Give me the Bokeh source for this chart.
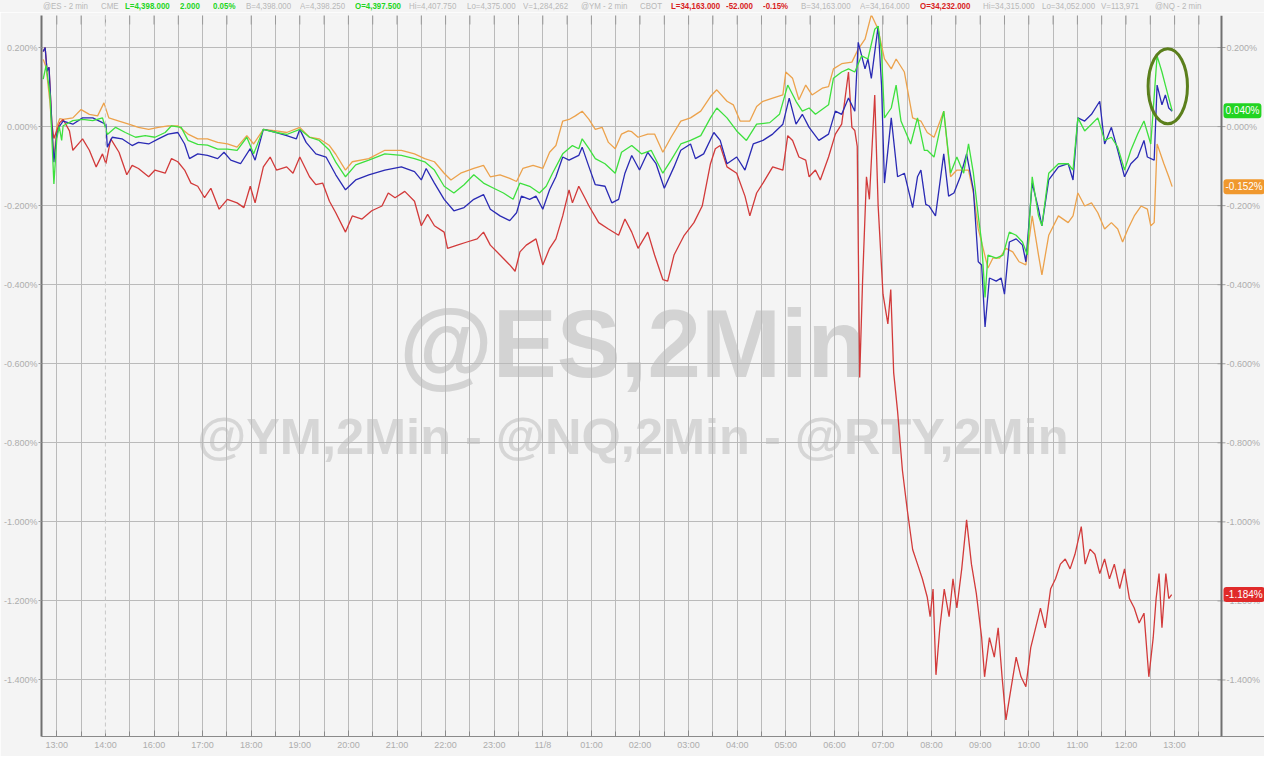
import math
from bokeh.plotting import figure
from bokeh.models import Range1d, FixedTicker, PrintfTickFormatter, Span, Label, Div, BoxAnnotation
from bokeh.layouts import column
from bokeh.embed import file_html
from bokeh.resources import INLINE
from bokeh.core.properties import value

# ---------------- data (x = hours from the first 13:00 tick, y = % change) -------------
hour_labels = ["13:00", "14:00", "16:00", "17:00", "18:00", "19:00", "20:00", "21:00",
               "22:00", "23:00", "11/8", "01:00", "02:00", "03:00", "04:00", "05:00",
               "06:00", "07:00", "08:00", "09:00", "10:00", "11:00", "12:00", "13:00"]
y_ticks = [0.2, 0.0, -0.2, -0.4, -0.6, -0.8, -1.0, -1.2, -1.4]

es_t = [-0.28, -0.22, -0.14, -0.06, 0.0, 0.05, 0.10, 0.13, 0.33, 0.53,
        0.74, 0.94, 1.04, 1.21, 1.41, 1.62, 1.82, 2.02, 2.23, 2.36,
        2.56, 2.70, 2.90, 3.10, 3.31, 3.51, 3.71, 3.91, 4.05, 4.25,
        4.52, 4.73, 5.00, 5.20, 5.40, 5.61, 5.74, 5.94, 6.15, 6.42,
        6.75, 7.09, 7.36, 7.57, 7.77, 7.97, 8.17, 8.38, 8.58, 8.78,
        8.99, 9.19, 9.39, 9.53, 9.73, 9.93, 10.07, 10.20, 10.41, 10.61,
        10.74, 10.81, 10.95, 11.08, 11.28, 11.49, 11.62, 11.83, 12.03, 12.23,
        12.47, 12.64, 12.84, 13.04, 13.25, 13.45, 13.58, 13.79, 13.99, 14.19,
        14.40, 14.67, 14.87, 15.04, 15.21, 15.34, 15.48, 15.61, 15.88, 15.98,
        16.15, 16.29, 16.42, 16.56, 16.69, 16.83, 16.90, 16.97, 17.03, 17.17,
        17.27, 17.37, 17.57, 17.71, 17.85, 17.91, 18.05, 18.25, 18.39, 18.52,
        18.66, 18.76, 18.86, 18.96, 19.03, 19.10, 19.16, 19.33, 19.47, 19.60,
        19.74, 19.87, 19.97, 20.07, 20.20, 20.27, 20.41, 20.61, 20.81, 20.91,
        21.01, 21.15, 21.29, 21.42, 21.56, 21.70, 21.83, 21.97, 22.10, 22.24,
        22.37, 22.51, 22.64, 22.74, 22.81, 22.88, 22.95]
es_v = [0.12, 0.155, 0.08, -0.145, -0.03, 0.0, -0.035, 0.002, 0.015, 0.018,
        0.015, 0.022, -0.02, -0.002, -0.015, -0.027, -0.023, -0.027, -0.015, 0.002,
        -0.002, -0.035, -0.045, -0.047, -0.057, -0.057, -0.06, -0.027, -0.069, -0.007,
        -0.015, -0.02, -0.007, -0.027, -0.035, -0.06, -0.09, -0.127, -0.097, -0.085,
        -0.069, -0.073, -0.081, -0.089, -0.11, -0.151, -0.168, -0.147, -0.122, -0.143,
        -0.156, -0.168, -0.184, -0.143, -0.151, -0.168, -0.151, -0.118, -0.069, -0.048,
        -0.056, -0.031, -0.056, -0.081, -0.094, -0.118, -0.065, -0.048, -0.069, -0.06,
        -0.118, -0.085, -0.044, -0.035, -0.023, 0.022, 0.047, 0.022, -0.011, -0.035,
        0.006, 0.01, 0.031, 0.105, 0.064, 0.039, 0.047, 0.031, 0.055, 0.122,
        0.138, 0.146, 0.138, 0.179, 0.171, 0.246, 0.254, 0.188, 0.022, 0.047,
        0.105, 0.014, -0.044, 0.022, -0.06, -0.06, -0.077, 0.039, -0.118, -0.077,
        -0.118, -0.044, -0.118, -0.226, -0.292, -0.432, -0.325, -0.333, -0.325, -0.267,
        -0.275, -0.292, -0.325, -0.127, -0.226, -0.251, -0.118, -0.094, -0.094, -0.11,
        0.022, -0.011, 0.006, 0.022, -0.035, -0.027, -0.052, -0.11, -0.06, -0.019,
        0.014, -0.044, 0.179, 0.138, 0.105, 0.072, 0.04]

nq_t = [-0.28, -0.24, -0.20, -0.16, -0.10, -0.06, 0.0, 0.05, 0.13, 0.33,
        0.53, 0.74, 0.94, 1.01, 1.04, 1.14, 1.34, 1.55, 1.68, 1.89,
        2.09, 2.29, 2.49, 2.63, 2.73, 2.90, 3.10, 3.31, 3.44, 3.58,
        3.78, 3.98, 4.08, 4.25, 4.52, 4.73, 4.93, 5.00, 5.13, 5.33,
        5.54, 5.74, 5.94, 6.15, 6.42, 6.75, 7.09, 7.36, 7.50, 7.60,
        7.77, 7.97, 8.17, 8.38, 8.58, 8.78, 8.92, 9.12, 9.32, 9.46,
        9.56, 9.73, 9.86, 10.00, 10.14, 10.27, 10.41, 10.54, 10.74, 10.81,
        10.95, 11.08, 11.28, 11.42, 11.56, 11.69, 11.83, 11.99, 12.16, 12.33,
        12.50, 12.70, 12.84, 13.04, 13.14, 13.31, 13.52, 13.65, 13.79, 13.99,
        14.16, 14.33, 14.53, 14.73, 14.94, 15.07, 15.21, 15.34, 15.48, 15.68,
        15.88, 16.02, 16.15, 16.29, 16.42, 16.49, 16.63, 16.69, 16.76, 16.90,
        16.97, 17.03, 17.17, 17.30, 17.44, 17.61, 17.71, 17.78, 17.88, 17.95,
        18.08, 18.25, 18.35, 18.46, 18.59, 18.72, 18.86, 18.96, 19.03, 19.10,
        19.19, 19.33, 19.43, 19.50, 19.60, 19.74, 19.87, 19.94, 20.07, 20.20,
        20.27, 20.41, 20.61, 20.81, 20.91, 21.01, 21.15, 21.29, 21.46, 21.56,
        21.70, 21.83, 21.97, 22.10, 22.24, 22.37, 22.44, 22.58, 22.64, 22.74,
        22.81, 22.88, 22.95]
nq_v = [0.19, 0.20, 0.14, 0.15, 0.0, -0.09, -0.02, 0.0, 0.014, 0.006,
        0.022, 0.022, 0.01, 0.006, -0.052, -0.027, -0.031, -0.048, -0.04, -0.044,
        -0.031, -0.019, -0.015, -0.044, -0.081, -0.069, -0.073, -0.081, -0.065, -0.085,
        -0.094, -0.056, -0.085, -0.007, -0.015, -0.023, -0.031, -0.007, -0.04, -0.069,
        -0.077, -0.122, -0.16, -0.135, -0.122, -0.11, -0.102, -0.114, -0.135, -0.106,
        -0.143, -0.184, -0.213, -0.205, -0.184, -0.172, -0.209, -0.226, -0.238, -0.218,
        -0.176, -0.184, -0.176, -0.209, -0.16, -0.127, -0.077, -0.085, -0.073, -0.052,
        -0.102, -0.147, -0.151, -0.193, -0.184, -0.118, -0.073, -0.11, -0.065, -0.094,
        -0.156, -0.102, -0.06, -0.044, -0.081, -0.069, -0.015, -0.035, -0.094, -0.077,
        -0.11, -0.044, -0.035, -0.019, 0.006, 0.072, 0.006, 0.031, -0.002, -0.035,
        -0.019, 0.039, 0.031, 0.072, 0.039, 0.213, 0.146, 0.171, 0.122, 0.254,
        0.105, -0.143, 0.022, -0.127, -0.118, -0.205, -0.127, -0.11, -0.197, -0.201,
        -0.226, -0.069, -0.176, -0.168, -0.127, -0.069, -0.16, -0.342, -0.35, -0.507,
        -0.383, -0.391, -0.383, -0.424, -0.292, -0.284, -0.30, -0.342, -0.143, -0.209,
        -0.251, -0.135, -0.102, -0.094, -0.135, 0.022, 0.014, 0.031, 0.064, -0.044,
        -0.002, -0.06, -0.127, -0.094, -0.077, -0.035, -0.077, -0.085, 0.105, 0.055,
        0.08, 0.047, 0.039]

rty_t = [-0.28, -0.22, -0.14, -0.06, 0.0, 0.06, 0.13, 0.33, 0.50, 0.67,
         0.84, 0.97, 1.07, 1.28, 1.48, 1.68, 1.89, 2.09, 2.29, 2.49,
         2.70, 2.90, 3.10, 3.31, 3.51, 3.71, 3.91, 4.05, 4.25, 4.52,
         4.73, 5.00, 5.20, 5.40, 5.61, 5.74, 5.94, 6.08, 6.42, 6.75,
         7.09, 7.36, 7.57, 7.77, 7.97, 8.11, 8.31, 8.58, 8.78, 8.92,
         9.12, 9.32, 9.46, 9.59, 9.80, 10.00, 10.14, 10.27, 10.41, 10.54,
         10.67, 10.81, 10.95, 11.08, 11.22, 11.35, 11.49, 11.62, 11.76, 11.83,
         11.96, 12.16, 12.30, 12.47, 12.64, 12.84, 13.04, 13.25, 13.45, 13.58,
         13.79, 13.92, 14.06, 14.26, 14.40, 14.53, 14.73, 14.94, 15.00, 15.14,
         15.27, 15.41, 15.54, 15.75, 15.88, 15.98, 16.15, 16.36, 16.49, 16.63,
         16.76, 16.90, 17.03, 17.17, 17.27, 17.44, 17.61, 17.78, 17.91, 18.05,
         18.25, 18.39, 18.52, 18.66, 18.76, 18.86, 18.96, 19.06, 19.16, 19.26,
         19.40, 19.53, 19.67, 19.80, 19.94, 20.07, 20.20, 20.27, 20.41, 20.61,
         20.81, 20.91, 21.01, 21.15, 21.29, 21.42, 21.56, 21.70, 21.83, 21.93,
         22.04, 22.17, 22.31, 22.44, 22.51, 22.58, 22.64, 22.78, 22.88, 22.95]
rty_v = [0.17, 0.15, 0.06, -0.08, 0.0, 0.02, 0.018, 0.022, 0.043, 0.031,
         0.027, 0.06, 0.022, 0.014, 0.006, -0.002, -0.007, -0.002, 0.002, 0.002,
         -0.019, -0.031, -0.031, -0.04, -0.044, -0.052, -0.023, -0.044, -0.007, -0.011,
         -0.015, -0.002, -0.027, -0.031, -0.048, -0.07, -0.11, -0.089, -0.081, -0.06,
         -0.06, -0.069, -0.081, -0.089, -0.118, -0.135, -0.118, -0.106, -0.098, -0.127,
         -0.122, -0.131, -0.139, -0.106, -0.098, -0.106, -0.065, -0.048, 0.014, 0.018,
         0.027, 0.039, 0.018, -0.007, -0.002, -0.04, -0.056, -0.019, -0.011, -0.013,
         -0.027, -0.019, -0.019, -0.065, -0.027, 0.014, 0.022, 0.039, 0.076, 0.093,
         0.064, 0.055, 0.014, 0.014, 0.051, 0.064, 0.072, 0.08, 0.138, 0.122,
         0.068, 0.105, 0.08, 0.097, 0.101, 0.146, 0.159, 0.163, 0.196, 0.221,
         0.283, 0.246, 0.171, 0.146, 0.171, 0.138, 0.022, 0.014, -0.015, -0.027,
         0.039, -0.127, -0.11, -0.11, -0.11, -0.168, -0.259, -0.308, -0.358, -0.333,
         -0.333, -0.308, -0.317, -0.342, -0.35, -0.226, -0.325, -0.375, -0.275, -0.226,
         -0.243, -0.226, -0.168, -0.201, -0.193, -0.218, -0.259, -0.243, -0.259, -0.292,
         -0.259, -0.226, -0.201, -0.209, -0.251, -0.243, -0.044, -0.094, -0.127, -0.152]

ym_t = [-0.28, -0.24, -0.20, -0.16, -0.10, -0.06, 0.0, 0.06, 0.13, 0.26,
        0.33, 0.47, 0.53, 0.67, 0.81, 0.94, 1.01, 1.11, 1.28, 1.44,
        1.55, 1.68, 1.89, 2.02, 2.23, 2.36, 2.49, 2.63, 2.76, 2.90,
        3.04, 3.17, 3.34, 3.51, 3.71, 3.85, 3.98, 4.08, 4.25, 4.39,
        4.52, 4.73, 4.86, 5.00, 5.20, 5.33, 5.47, 5.61, 5.74, 5.94,
        6.08, 6.28, 6.48, 6.69, 6.82, 6.96, 7.16, 7.36, 7.50, 7.63,
        7.77, 7.97, 8.04, 8.24, 8.44, 8.65, 8.78, 8.92, 9.12, 9.32,
        9.43, 9.53, 9.66, 9.86, 10.00, 10.14, 10.27, 10.41, 10.54, 10.61,
        10.74, 10.88, 10.95, 11.15, 11.35, 11.56, 11.69, 11.83, 11.96, 12.16,
        12.30, 12.47, 12.57, 12.70, 12.91, 13.11, 13.28, 13.45, 13.55, 13.65,
        13.79, 13.99, 14.16, 14.26, 14.40, 14.53, 14.73, 14.94, 15.04, 15.14,
        15.27, 15.41, 15.48, 15.61, 15.71, 15.88, 16.02, 16.15, 16.22, 16.29,
        16.36, 16.42, 16.47, 16.52, 16.58, 16.66, 16.72, 16.83, 16.90, 17.00,
        17.10, 17.16, 17.22, 17.30, 17.40, 17.50, 17.61, 17.71, 17.81, 17.91,
        17.97, 18.03, 18.09, 18.17, 18.26, 18.36, 18.44, 18.52, 18.62, 18.72,
        18.82, 18.92, 19.03, 19.09, 19.19, 19.29, 19.37, 19.45, 19.53, 19.64,
        19.74, 19.84, 19.94, 20.04, 20.14, 20.24, 20.34, 20.45, 20.55, 20.65,
        20.75, 20.85, 20.95, 21.08, 21.16, 21.26, 21.36, 21.46, 21.56, 21.66,
        21.76, 21.87, 21.97, 22.07, 22.17, 22.27, 22.37, 22.47, 22.56, 22.62,
        22.68, 22.74, 22.82, 22.88, 22.94]
ym_v = [0.19, 0.20, 0.14, 0.15, 0.005, -0.03, -0.01, 0.01, 0.018, -0.011,
        -0.06, -0.04, -0.031, -0.06, -0.102, -0.069, -0.094, -0.031, -0.065, -0.122,
        -0.098, -0.106, -0.127, -0.11, -0.118, -0.081, -0.089, -0.11, -0.143, -0.151,
        -0.18, -0.156, -0.209, -0.184, -0.193, -0.205, -0.151, -0.193, -0.102, -0.077,
        -0.11, -0.102, -0.118, -0.077, -0.127, -0.147, -0.143, -0.189, -0.218, -0.267,
        -0.226, -0.234, -0.213, -0.201, -0.168, -0.18, -0.164, -0.189, -0.251, -0.222,
        -0.251, -0.267, -0.308, -0.30, -0.292, -0.284, -0.267, -0.30, -0.325, -0.35,
        -0.366, -0.317, -0.30, -0.284, -0.35, -0.308, -0.284, -0.226, -0.16, -0.193,
        -0.151, -0.184, -0.201, -0.243, -0.259, -0.275, -0.234, -0.267, -0.308, -0.267,
        -0.325, -0.387, -0.391, -0.325, -0.275, -0.243, -0.201, -0.094, -0.056, -0.048,
        -0.102, -0.118, -0.176, -0.226, -0.168, -0.143, -0.102, -0.11, -0.023, -0.035,
        -0.077, -0.085, -0.127, -0.11, -0.135, -0.077, -0.019, 0.006, 0.072, 0.138,
        -0.002, -0.01, -0.05, -0.635, -0.39, -0.127, -0.184, 0.08, -0.20, -0.424,
        -0.499, -0.412, -0.623, -0.72, -0.87, -0.97, -1.07, -1.107, -1.144, -1.19,
        -1.24, -1.17, -1.387, -1.268, -1.17, -1.24, -1.144, -1.218, -1.119, -0.995,
        -1.107, -1.181, -1.293, -1.392, -1.293, -1.342, -1.268, -1.392, -1.501, -1.417,
        -1.342, -1.392, -1.417, -1.318, -1.268, -1.218, -1.268, -1.169, -1.144, -1.107,
        -1.094, -1.119, -1.082, -1.012, -1.107, -1.069, -1.082, -1.131, -1.094, -1.144,
        -1.107, -1.169, -1.119, -1.194, -1.218, -1.256, -1.231, -1.392, -1.293, -1.194,
        -1.131, -1.268, -1.131, -1.194, -1.184]

header_items = [
    ("@ES - 2 min", "gray"), ("CME", "gray"), ("L=4,398.000", "green"), ("2.000", "green"),
    ("0.05%", "green"), ("B=4,398.000", "gray"), ("A=4,398.250", "gray"), ("O=4,397.500", "green"),
    ("Hi=4,407.750", "gray"), ("Lo=4,375.000", "gray"), ("V=1,284,262", "gray"),
    ("@YM - 2 min", "gray"), ("CBOT", "gray"), ("L=34,163.000", "red"), ("-52.000", "red"),
    ("-0.15%", "red"), ("B=34,163.000", "gray"), ("A=34,164.000", "gray"), ("O=34,232.000", "red"),
    ("Hi=34,315.000", "gray"), ("Lo=34,052.000", "gray"), ("V=113,971", "gray"), ("@NQ - 2 min", "gray"),
]

# ---------------- layout / style -------------
BG = "#f4f4f4"
GRID = "#bababa"
AXIS_TXT = "#adadad"
AXIS_LINE = "#707070"
FONT = "Liberation Sans"
header_left = [43, 101, 125, 180, 213, 246, 300, 355, 409, 467, 523, 581, 640, 671, 726,
               763, 801, 860, 920, 983, 1042, 1101, 1155]
hdr_colors = {"gray": "#b8b8b8", "green": "#1fd61f", "red": "#d81e1e"}

spans = []
for (txt, c), left in zip(header_items, header_left):
    weight = "bold" if c != "gray" else "normal"
    spans.append(f'<span style="position:absolute;left:{left}px;top:1px;color:{hdr_colors[c]};'
                 f'font-weight:{weight};white-space:nowrap;display:inline-block;'
                 f'transform:scaleX(0.88);transform-origin:0 0">{txt}</span>')
header_html = (f'<div style="position:relative;width:1264px;height:12px;background:{BG};'
               f"font-family:'{FONT}',Arial,sans-serif;"
               f'font-size:9px;line-height:11px;overflow:hidden">' + "".join(spans) + "</div>")
header = Div(text=header_html, width=1264, height=12, margin=(0, 0, 0, 0),
             styles={"background-color": BG})

# x range: the right part of the frame (beyond the right value axis) holds the axis labels
x_lo, x_axis_r, x_hi = -0.315, 23.965, 24.85
y_lo, y_hi = -1.543, 0.281

p = figure(width=1264, height=744, output_backend="svg", toolbar_location=None,
           x_range=Range1d(x_lo, x_hi), y_range=Range1d(y_lo, y_hi),
           background_fill_color=BG, border_fill_color=BG,
           min_border_left=34, min_border_right=0, min_border_top=3, min_border_bottom=20,
           outline_line_color=None)

half_hours = [i * 0.5 for i in range(48)]
p.xaxis.ticker = FixedTicker(ticks=list(range(24)), minor_ticks=half_hours)
p.xaxis.major_label_overrides = {i: lab for i, lab in enumerate(hour_labels)}
p.xaxis.major_label_text_font = FONT
p.xaxis.major_label_text_font_size = "9px"
p.xaxis.major_label_text_color = AXIS_TXT
p.xaxis.major_label_standoff = 3
p.xaxis.major_tick_in = 6
p.xaxis.major_tick_out = 0
p.xaxis.minor_tick_in = 5
p.xaxis.minor_tick_out = 0
p.xaxis.axis_line_color = "#8a8a8a"
p.xaxis.major_tick_line_color = "#8a8a8a"
p.xaxis.minor_tick_line_color = "#8a8a8a"

p.xgrid.ticker = FixedTicker(ticks=[h for h in half_hours if h != 1.0])
p.xgrid.grid_line_color = GRID
p.ygrid.grid_line_color = GRID
p.ygrid.ticker = FixedTicker(ticks=y_ticks)

ax = p.yaxis[0]
ax.ticker = FixedTicker(ticks=y_ticks)
ax.formatter = PrintfTickFormatter(format="%.3f%%")
ax.major_label_text_font = FONT
ax.major_label_text_font_size = "9px"
ax.major_label_text_color = AXIS_TXT
ax.major_label_standoff = 1
ax.major_tick_in = 0
ax.major_tick_out = 3
ax.minor_tick_line_color = None
ax.axis_line_color = AXIS_LINE
ax.axis_line_width = 2
ax.major_tick_line_color = "#a0a0a0"

# right-hand value scale (drawn inside the frame so the last-value tags can sit on it)
p.add_layout(BoxAnnotation(left=x_axis_r, fill_color=BG, fill_alpha=1.0, line_color=None,
                           level="underlay"))
p.add_layout(Span(location=x_axis_r, dimension="height", line_color=AXIS_LINE, line_width=2))
p.scatter(x=[x_axis_r] * len(y_ticks), y=y_ticks, marker="dash", size=8, line_color="#a0a0a0")
p.text(x=[x_axis_r] * len(y_ticks), y=y_ticks, text=[f"{t:.3f}%" for t in y_ticks],
       x_offset=5, text_baseline="middle", text_font=value(FONT), text_font_size="9px",
       text_color=AXIS_TXT)

# short tick marks hanging from the top edge (half of each dash is clipped by the frame)
p.scatter(x=half_hours, y=[y_hi] * len(half_hours), marker="dash", angle=math.pi / 2,
          size=18, line_color="#9a9a9a", line_width=1)

p.add_layout(Span(location=1.0, dimension="height", line_color="#c8c8c8",
                  line_dash="4 3", line_width=1))

# watermarks
p.add_layout(Label(x=11.85, y=-0.548, text="@ES,2Min", text_align="center", text_baseline="middle",
                   text_font=FONT, text_font_style="bold", text_font_size="96px",
                   text_color="#d3d3d3", level="image"))
p.add_layout(Label(x=11.85, y=-0.784, text="@YM,2Min - @NQ,2Min - @RTY,2Min", text_align="center",
                   text_baseline="middle", text_font=FONT, text_font_style="bold",
                   text_font_size="50.5px", text_color="#d6d6d6", level="image"))

# series
ES_C, NQ_C, YM_C, RTY_C = "#3ee03e", "#2a2ab4", "#d23a3a", "#eca24c"
p.line(rty_t, rty_v, line_color=RTY_C, line_width=1.3)
p.line(ym_t, ym_v, line_color=YM_C, line_width=1.3)
p.line(nq_t, nq_v, line_color=NQ_C, line_width=1.3)
p.line(es_t, es_v, line_color=ES_C, line_width=1.3)

# highlight ellipse
p.ellipse(x=[22.86], y=[0.102], width=0.81, height=0.19, fill_color=None,
          line_color="#5b7f1c", line_width=3)

# last-value tags on the right scale
for vals, col in [(es_v, "#22d422"), (rty_v, "#f0982e"), (ym_v, "#e02a2a")]:
    p.add_layout(Label(x=x_axis_r, y=vals[-1], x_offset=2, text=f"{vals[-1]:.3f}%",
                       text_baseline="middle", text_font=FONT, text_font_size="10px",
                       text_color="white", background_fill_color=col,
                       padding=2, border_radius=3))

layout = column(header, p, spacing=0)
open("out.html", "w").write(file_html(layout, INLINE))
